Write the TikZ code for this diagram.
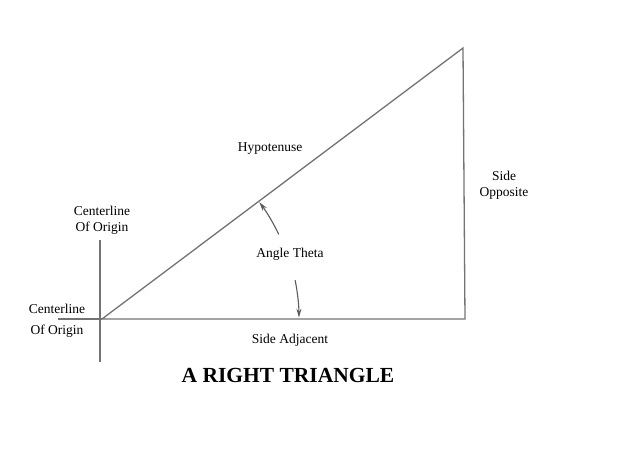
\documentclass[tikz,border=0pt]{standalone}
\usepackage{fontspec}
\setmainfont{Liberation Serif}
\usetikzlibrary{arrows.meta}
\definecolor{linegray}{RGB}{115,115,115}
\begin{document}
\begin{tikzpicture}[x=1pt,y=-1pt,
  lineart/.style={draw=linegray,line width=1.3pt},
  arrowline/.style={draw=linegray!80!black,line width=1.1pt,-{Stealth[length=9pt,width=5pt]}},
  lbl/.style={font=\fontsize{13.5}{16}\selectfont,text=black,inner sep=0pt,align=center},
  title/.style={font=\fontsize{21.5}{24}\selectfont\bfseries,text=black,inner sep=0pt}]
\useasboundingbox (0,0) rectangle (622,466);
% vertices
\coordinate (O) at (102,319);
\coordinate (B) at (465,319);
\coordinate (T) at (463,48);
% centerlines
\coordinate (vtop) at (100,240);
\coordinate (vbot) at (100,362);
\coordinate (hleft) at (58,319);
\draw[lineart] (vtop) -- (vbot);
\draw[lineart] (hleft) -- (O);
% triangle
\draw[lineart] (O) -- (B) -- (T) -- cycle;
% angle arrows (arcs centred at origin)
\draw[arrowline] ([shift={(-25.6:196)}]O) arc[start angle=-25.6,end angle=-36.6,radius=196];
\draw[arrowline] ([shift={(-11.4:197)}]O) arc[start angle=-11.4,end angle=-0.4,radius=197];
% labels
\node[lbl] (cl1) at (102,220) {Centerline\\Of Origin};
\node[lbl] (cl2) at (57,320.5) {Centerline\\[5pt]Of Origin};
\node[lbl] (hyp) at (270,149) {Hypotenuse};
\node[lbl] (ang) at (290,254) {Angle Theta};
\node[lbl] (adj) at (290,340) {Side Adjacent};
\node[lbl] (opp) at (504,185) {Side\\Opposite};
\node[title] (ttl) at (288,375) {A RIGHT TRIANGLE};
\end{tikzpicture}
\end{document}
